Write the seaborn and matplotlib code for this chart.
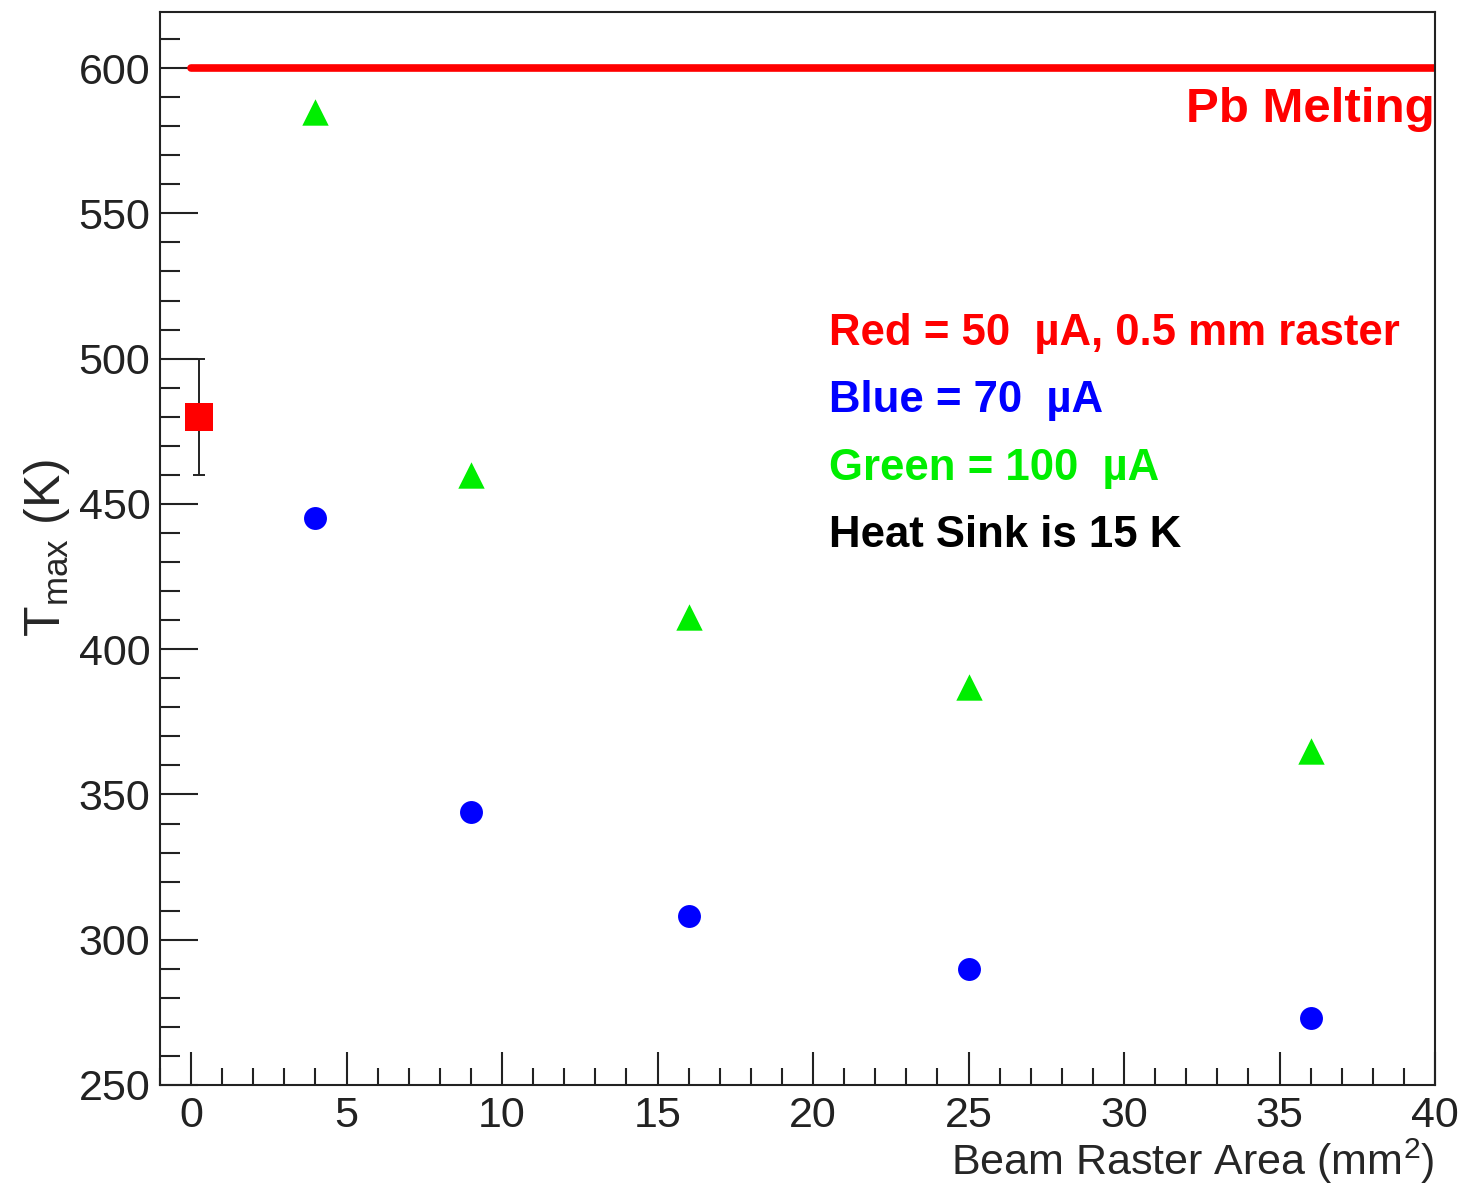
import matplotlib
matplotlib.use("Agg")
import matplotlib.pyplot as plt
import seaborn as sns
from matplotlib.ticker import MultipleLocator

# values
area_red = [0.25]
tmax_red = [480]
err_red = [20]

area = [4, 9, 16, 25, 36]
tmax_blue = [445, 344, 308, 290, 273]
tmax_green = [585, 460, 411, 387, 365]

melt_x = [0, 40]
melt_y = [600, 600]

notes = ["Red = 50  µA, 0.5 mm raster", "Blue = 70  µA", "Green = 100  µA", "Heat Sink is 15 K"]
note_colors = ["#ff0000", "#0000ff", "#00ee00", "black"]
note_y = [504.7, 481.6, 458.2, 435.2]

sns.set_theme(style="ticks")
plt.rcParams["font.family"] = ["Liberation Sans", "DejaVu Sans"]
plt.rcParams["mathtext.default"] = "regular"

fig = plt.figure(figsize=(14.6, 11.89), dpi=100)
ax = fig.add_axes([160 / 1460, 1 - 1085 / 1189, 1275 / 1460, 1073 / 1189])

# Pb melting line
sns.lineplot(x=melt_x, y=melt_y, color="#ff0000", linewidth=5.5, ax=ax, zorder=2)

# red point with error bar
ax.errorbar(area_red, tmax_red, yerr=err_red, fmt="none", ecolor="#222222",
            elinewidth=1.4, capsize=4.5, capthick=1.4, zorder=3)
sns.scatterplot(x=area_red, y=tmax_red, marker="s", s=20 ** 2, color="#ff0000",
                linewidth=0, ax=ax, zorder=4)

sns.scatterplot(x=area, y=tmax_blue, marker="o", s=16.5 ** 2, color="#0000ff",
                linewidth=0, ax=ax, zorder=4)
sns.scatterplot(x=area, y=tmax_green, marker="^", s=19 ** 2, color="#00ee00",
                linewidth=0, ax=ax, zorder=4)

ax.text(40, 581.5, "Pb Melting", ha="right", va="baseline", color="#ff0000",
        fontsize=35.5, fontweight="bold")
for txt, c, yy in zip(notes, note_colors, note_y):
    ax.text(20.5, yy, txt, ha="left", va="baseline", color=c,
            fontsize=31.5, fontweight="bold")

ax.set_xlim(-1, 40)
ax.set_ylim(250, 619.3)
ax.xaxis.set_major_locator(MultipleLocator(5))
ax.xaxis.set_minor_locator(MultipleLocator(1))
ax.yaxis.set_major_locator(MultipleLocator(50))
ax.yaxis.set_minor_locator(MultipleLocator(10))

ax.tick_params(axis="both", which="both", direction="in", colors="#222222",
               width=1.5, labelsize=31, top=False, right=False)
ax.tick_params(axis="y", which="major", length=27.5, pad=7)
ax.tick_params(axis="y", which="minor", length=14.4)
ax.tick_params(axis="x", which="major", length=24, pad=8)
ax.tick_params(axis="x", which="minor", length=12)
for sp in ax.spines.values():
    sp.set_linewidth(1.5)
    sp.set_color("#222222")

ax.set_xlabel("Beam Raster Area (mm$^{2}$)", fontsize=31, ha="right")
ax.xaxis.set_label_coords(1.0, -0.048)
ax.set_ylabel("T$_{max}$ (K)", fontsize=36)
ax.yaxis.set_label_coords(-0.069, 0.5)

fig.savefig("out.png", dpi=100)
